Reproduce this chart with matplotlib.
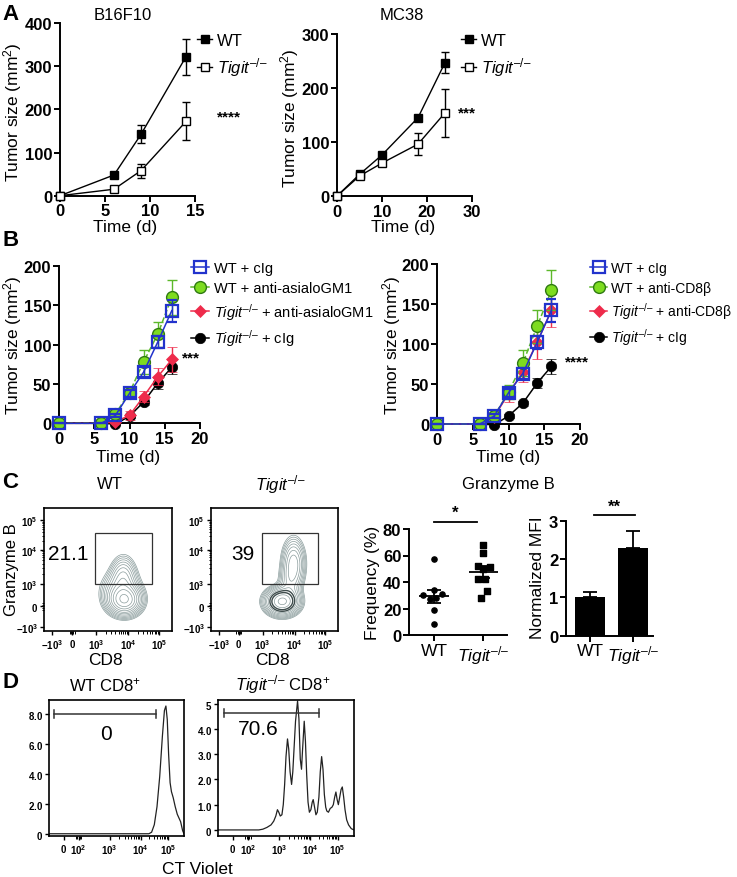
import numpy as np
import matplotlib
matplotlib.use("Agg")
import matplotlib.pyplot as plt
from matplotlib.lines import Line2D
from matplotlib.patches import Rectangle

plt.rcParams['font.family'] = ['Liberation Sans', 'DejaVu Sans']
plt.rcParams['mathtext.fontset'] = 'custom'
plt.rcParams['mathtext.rm'] = 'Liberation Sans'
plt.rcParams['mathtext.it'] = 'Liberation Sans:italic'
plt.rcParams['mathtext.bf'] = 'Liberation Sans:bold'

KO = r'$\mathit{Tigit}^{\mathit{–/–}}$'

# ---- panel A data ----
b16_days = [0, 6, 9, 14]
b16_wt = [0, 48, 142, 322]
b16_wt_err = [0, 0, 21, 42]
b16_ko = [0, 15, 58, 172]
b16_ko_err = [0, 0, 16, 44]

mc38_days = [0, 5, 10, 18, 24]
mc38_wt = [0, 40, 76, 145, 247]
mc38_wt_err = [0, 0, 0, 4, 20]
mc38_ko = [0, 37, 61, 96, 154]
mc38_ko_err = [0, 0, 0, 20, 45]

# ---- panel B data ----
b_days = [0, 6, 8, 10, 12, 14, 16]
b1_labels = ['WT + cIg', 'WT + anti-asialoGM1',
             KO + ' + anti-asialoGM1', KO + ' + cIg']
b1_vals = [[0, 0, 10, 38, 65, 103, 143],
           [0, 0, 12, 39, 78, 113, 160],
           [0, 0, 2, 10, 34, 59, 81],
           [0, 0, -1, 9, 27, 51, 71]]
b1_errs = [[0, 0, 2, 4, 6, 8, 14],
           [0, 0, 3, 6, 15, 16, 22],
           [0, 0, 1, 6, 7, 11, 16],
           [0, 0, 1, 2, 4, 7, 9]]
b2_labels = ['WT + cIg', 'WT + anti-CD8β',
             KO + ' + anti-CD8β', KO + ' + cIg']
b2_vals = [[0, 0, 10, 39, 63, 102, 142],
           [0, 0, 10, 40, 76, 122, 167],
           [0, 0, 9, 38, 65, 102, 142],
           [0, 0, -1, 10, 26, 51, 72]]
b2_errs = [[0, 0, 2, 5, 7, 8, 14],
           [0, 0, 2, 9, 16, 21, 25],
           [0, 0, 2, 10, 13, 21, 21],
           [0, 0, 1, 2, 3, 6, 9]]

# ---- panel C data ----
wt_freq = [57, 34, 31, 30, 28, 27, 19, 8]
wt_jit = [0, 0, 0.17, -0.22, 0.05, -0.08, 0, 0]
ko_freq = [68, 62, 52, 50, 51, 42, 42, 33, 28]
ko_jit = [0, 0, -0.12, 0, 0.13, -0.12, 0.03, 0.08, -0.05]
mfi_groups = ['WT', KO]
mfi_vals = [1.0, 2.3]
mfi_err = [0.14, 0.42]
gate_pct = ['21.1', '39']

# flow population components (display units 0..1): cx, cy, sx, sy, weight
wt_pop = [[0.63, 0.25, 0.07, 0.065, 1.0],
          [0.62, 0.45, 0.055, 0.09, 0.3],
          [0.60, 0.33, 0.085, 0.09, 0.3]]
ko_pop = [[0.56, 0.24, 0.07, 0.058, 1.0],
          [0.65, 0.55, 0.05, 0.11, 0.35],
          [0.62, 0.40, 0.05, 0.08, 0.15]]

flow_xticks = [0.06, 0.22, 0.406, 0.659, 0.901]
flow_xlabels = [r'$\mathbf{-10^3}$', r'$\mathbf{0}$', r'$\mathbf{10^3}$',
                r'$\mathbf{10^4}$', r'$\mathbf{10^5}$']
flow_yticks = [0.03, 0.20, 0.38, 0.66, 0.90]

# ---- panel D data (histogram traces) ----
wt_hist_x = [0.0, 0.74, 0.76, 0.78, 0.80, 0.82, 0.84, 0.855, 0.866, 0.876,
             0.886, 0.897, 0.907, 0.92, 0.935, 0.95, 0.96, 0.975, 0.99, 1.0]
wt_hist_y = [0, 0, 0.1, 0.6, 1.8, 3.8, 6.5, 8.2, 8.5, 7.6,
             5.3, 3.4, 2.8, 2.4, 1.8, 1.3, 1.1, 0.8, 0.2, 0]
ko_hist_x = [0.0, 0.30, 0.33, 0.36, 0.39, 0.41, 0.425, 0.437, 0.447, 0.458,
             0.47, 0.48, 0.49, 0.50, 0.511, 0.52, 0.53, 0.541, 0.55, 0.56,
             0.57, 0.585, 0.595, 0.605, 0.614, 0.622, 0.634, 0.643, 0.652, 0.662,
             0.672, 0.683, 0.693, 0.70, 0.71, 0.72, 0.73, 0.742, 0.752, 0.762,
             0.772, 0.782, 0.792, 0.80, 0.812, 0.825, 0.838, 0.848, 0.858, 0.867,
             0.876, 0.885, 0.895, 0.905, 0.914, 0.924, 0.934, 0.946, 0.96, 0.98, 1.0]
ko_hist_y = [0, 0, 0.03, 0.1, 0.2, 0.35, 0.55, 0.8, 0.7, 0.55,
             0.6, 1.0, 1.8, 2.9, 3.6, 3.2, 2.3, 1.8, 2.3, 3.3,
             4.3, 5.1, 4.4, 2.8, 2.4, 3.2, 4.3, 3.5, 2.2, 1.1,
             0.7, 0.8, 1.1, 1.2, 0.9, 0.6, 0.7, 1.3, 2.3, 2.9,
             2.4, 1.4, 0.9, 0.75, 0.7, 0.85, 0.9, 1.0, 1.3, 1.5,
             1.2, 1.0, 1.3, 1.6, 1.7, 1.3, 0.8, 0.4, 0.2, 0.05, 0]
hist_xticks = [0.11, 0.22, 0.45, 0.68, 0.88]
hist_xlabels = [r'$\mathbf{0}$', r'$\mathbf{10^2}$', r'$\mathbf{10^3}$',
                r'$\mathbf{10^4}$', r'$\mathbf{10^5}$']

W, H = 737, 878
fig = plt.figure(figsize=(W / 100, H / 100), dpi=100)


def add_ax(l, t, r, b):
    return fig.add_axes([l / W, 1 - b / H, (r - l) / W, (b - t) / H])


def ftext(x, y, s, **kw):
    kw.setdefault('ha', 'center')
    kw.setdefault('va', 'center')
    fig.text(x / W, 1 - y / H, s, **kw)


def prism(ax, size=12):
    for s in ['top', 'right']:
        ax.spines[s].set_visible(False)
    for s in ['left', 'bottom']:
        ax.spines[s].set_linewidth(1.4)
    ax.tick_params(direction='out', length=4, width=1.4, labelsize=size, pad=1.5)
    for lab in ax.get_xticklabels() + ax.get_yticklabels():
        lab.set_fontweight('bold')


def flow_box(ax, xt, xl, yt=None, yl=None, ylim=(0, 1)):
    for s in ax.spines.values():
        s.set_linewidth(1.2)
    ax.set_xlim(0, 1)
    ax.set_ylim(*ylim)
    ax.set_xticks(xt)
    ax.set_xticklabels(xl)
    # log-style minor ticks between decades
    minor = []
    for a, b in zip(xt[-3:-1], xt[-2:]):
        minor += [a + (b - a) * np.log10(k) for k in range(2, 10)]
    minor += [xt[1] + d for d in (-0.02, -0.01, 0.01, 0.02)]
    ax.set_xticks(minor, minor=True)
    ax.tick_params(axis='both', which='major', direction='out', length=3,
                   width=1, labelsize=7, pad=1.5)
    ax.tick_params(axis='both', which='minor', direction='out', length=1.8, width=0.7)
    if yt is not None:
        ax.set_yticks(yt)
        ax.set_yticklabels(yl)
    for lab in ax.get_xticklabels() + ax.get_yticklabels():
        lab.set_fontweight('bold')


# ================= A =================
axA1 = add_ax(60, 24, 195, 196.7)
axA1.errorbar(b16_days, b16_wt, yerr=b16_wt_err, fmt='-s', color='k', ms=5.5,
              lw=1, capsize=3, elinewidth=1, capthick=1, clip_on=False, zorder=3,
              label='WT')
axA1.errorbar(b16_days, b16_ko, yerr=b16_ko_err, fmt='-s', color='k', mfc='white',
              ms=5.5, lw=1, capsize=3, elinewidth=1, capthick=1, clip_on=False,
              zorder=3, label=KO)
axA1.set_xlim(0, 15)
axA1.set_ylim(0, 400)
axA1.set_xticks([0, 5, 10, 15])
axA1.set_yticks([0, 100, 200, 300, 400])
prism(axA1)

axA2 = add_ax(337, 35, 472, 197)
axA2.errorbar(mc38_days, mc38_wt, yerr=mc38_wt_err, fmt='-s', color='k', ms=5.5,
              lw=1, capsize=3, elinewidth=1, capthick=1, clip_on=False, zorder=3,
              label='WT')
axA2.errorbar(mc38_days, mc38_ko, yerr=mc38_ko_err, fmt='-s', color='k', mfc='white',
              ms=5.5, lw=1, capsize=3, elinewidth=1, capthick=1, clip_on=False,
              zorder=3, label=KO)
axA2.set_xlim(0, 30)
axA2.set_ylim(0, 300)
axA2.set_xticks([0, 10, 20, 30])
axA2.set_yticks([0, 100, 200, 300])
prism(axA2)

for ax, lx in [(axA1, 197), (axA2, 461)]:
    h, l = ax.get_legend_handles_labels()
    h = [Line2D([], [], color='k', marker='s', ms=5.5, lw=1,
                mfc=hh[0].get_markerfacecolor()) for hh in h]
    ax.legend(h, l, loc='upper left', bbox_to_anchor=(lx / W, 1 - 34 / H),
              bbox_transform=fig.transFigure, frameon=False, fontsize=12,
              handlelength=0.9, handletextpad=0.3, labelspacing=0.45,
              borderpad=0, borderaxespad=0)

ftext(123, 15, 'B16F10', fontsize=12)
ftext(402, 15, 'MC38', fontsize=12)
ftext(217, 117, '****', fontsize=11, fontweight='bold', ha='left')
ftext(458, 113, '***', fontsize=11, fontweight='bold', ha='left')
ftext(13, 112, 'Tumor size (mm$^2$)', fontsize=12.5, rotation=90)
ftext(290, 118, 'Tumor size (mm$^2$)', fontsize=12.5, rotation=90)
ftext(125, 228, 'Time (d)', fontsize=12.5)
ftext(403, 228, 'Time (d)', fontsize=12.5)

# ================= B =================
b_styles = [dict(marker='s', color='#2233cc', mfc='none', mec='#2233cc', mew=1.6,
                 ms=8.5, ls='-', zorder=5),
            dict(marker='o', color='#5cb82a', mfc='#7ddc1f', mec='#2f7a12', mew=1,
                 ms=8.5, ls='--', zorder=4),
            dict(marker='D', color='#ee2b4b', mfc='#ee2b4b', mec='#ee2b4b', mew=0.5,
                 ms=6, ls='-', zorder=3),
            dict(marker='o', color='k', mfc='k', mec='k', mew=0.5,
                 ms=7.5, ls='-', zorder=2)]


def draw_b(ax, vals, errs, labels):
    for v, e, lab, st in zip(vals, errs, labels, b_styles):
        st = dict(st)
        z = st.pop('zorder')
        ls = st.pop('ls')
        ax.errorbar(b_days, v, yerr=e, ecolor=st['color'], elinewidth=1,
                    capsize=3.5, capthick=1, lw=1.1, linestyle=ls, clip_on=False,
                    zorder=z, label=lab, **st)
    ax.set_xlim(0, 20)
    ax.set_ylim(0, 200)
    ax.set_xticks([0, 5, 10, 15, 20])
    ax.set_yticks([0, 50, 100, 150, 200])
    prism(ax)


axB1 = add_ax(59, 266.7, 200, 424.3)
draw_b(axB1, b1_vals, b1_errs, b1_labels)
axB2 = add_ax(437, 265, 580, 425)
draw_b(axB2, b2_vals, b2_errs, b2_labels)

for ax, lx, fs, pad in [(axB1, 191, 10.5, 0.35), (axB2, 590, 10, 0.25)]:
    h, l = ax.get_legend_handles_labels()
    hh = []
    for st in b_styles:
        st = dict(st)
        st.pop('zorder')
        st['ls'] = '-'
        hh.append(Line2D([], [], lw=1.1, **st))
    ax.legend(hh, l, loc='upper left', bbox_to_anchor=(lx / W, 1 - 262 / H),
              bbox_transform=fig.transFigure, frameon=False, fontsize=fs,
              handlelength=1.25, handletextpad=pad, labelspacing=0.4,
              borderpad=0, borderaxespad=0)

ftext(182, 358, '***', fontsize=11, fontweight='bold', ha='left')
ftext(565, 362, '****', fontsize=11, fontweight='bold', ha='left')
ftext(13, 345, 'Tumor size (mm$^2$)', fontsize=12.5, rotation=90)
ftext(392, 345, 'Tumor size (mm$^2$)', fontsize=12.5, rotation=90)
ftext(128, 458, 'Time (d)', fontsize=12.5)
ftext(508, 458, 'Time (d)', fontsize=12.5)

# ================= C flow =================
gx, gy = np.meshgrid(np.linspace(0, 1, 240), np.linspace(0, 1, 240))
flow_ylabels = [r'$\mathbf{-10^3}$', r'$\mathbf{0}$', r'$\mathbf{10^3}$',
                r'$\mathbf{10^4}$', r'$\mathbf{10^5}$']
for (l, r), pop, pct, px, dark in [((44, 172), wt_pop, gate_pct[0], 0.19, ()),
                                   ((211, 338), ko_pop, gate_pct[1], 0.25, (8, 9))]:
    ax = add_ax(l, 509, r, 632)
    dens = np.zeros_like(gx)
    for cx, cy, sx, sy, w in pop:
        dens += w * np.exp(-0.5 * (((gx - cx) / sx) ** 2 + ((gy - cy) / sy) ** 2))
    levels = dens.max() * np.geomspace(0.04, 0.9, 12)
    cols = ['#3f4d4d' if i in dark else '#8a9c9c' for i in range(len(levels))]
    lws = [1.0 if i in dark else 0.5 for i in range(len(levels))]
    ax.contour(gx, gy, dens, levels=levels, colors=cols, linewidths=lws)
    ax.add_patch(Rectangle((0.40, 0.38), 0.44, 0.42, fill=False, lw=0.9,
                           ec='#333333', zorder=5))
    ax.text(px, 0.63, pct, fontsize=15, ha='center', va='center')
    flow_box(ax, flow_xticks, flow_xlabels, flow_yticks, flow_ylabels)
    ymin = []
    for a, b in zip(flow_yticks[-3:-1], flow_yticks[-2:]):
        ymin += [a + (b - a) * np.log10(k) for k in range(2, 10)]
    ymin += [flow_yticks[1] + d for d in (-0.03, -0.015, 0.015, 0.03)]
    ax.set_yticks(ymin, minor=True)

ftext(110, 485, 'WT', fontsize=12)
ftext(280, 485, KO, fontsize=12)
ftext(12, 570, 'Granzyme B', fontsize=12, rotation=90)
ftext(105, 661, 'CD8', fontsize=12.5)
ftext(272, 661, 'CD8', fontsize=12.5)

# ================= C scatter =================
axC3 = add_ax(409, 530, 507, 636)
for i, (vals, jit, mk) in enumerate([(wt_freq, wt_jit, 'o'), (ko_freq, ko_jit, 's')]):
    xs = [i + j for j in jit]
    axC3.scatter(xs, vals, marker=mk, s=14, color='k', zorder=3, clip_on=False)
    m = np.mean(vals)
    sem = np.std(vals, ddof=1) / np.sqrt(len(vals))
    axC3.hlines(m, i - 0.3, i + 0.3, color='k', lw=1.3)
    axC3.errorbar([i], [m], yerr=[sem], fmt='none', ecolor='k', elinewidth=1.3,
                  capsize=5, capthick=1.3)
axC3.set_xlim(-0.505, 1.475)
axC3.set_ylim(0, 80)
axC3.set_yticks([0, 20, 40, 60, 80])
axC3.set_xticks([0, 1])
axC3.set_xticklabels(mfi_groups)
prism(axC3)
for lab in axC3.get_xticklabels():
    lab.set_fontweight('normal')
    lab.set_fontsize(12.5)
axC3.plot([0, 0.87], [85.5, 85.5], color='k', lw=1.3, clip_on=False)
axC3.text(0.43, 87, '*', fontsize=12, fontweight='bold', ha='center', va='bottom')

ftext(373, 583, 'Frequency (%)', fontsize=12.5, rotation=90)
ftext(508, 485, 'Granzyme B', fontsize=12)

# ================= C bar =================
axC4 = add_ax(566, 521.7, 653, 636.7)
axC4.bar([0, 1], mfi_vals, width=0.7, color='k', zorder=2)
axC4.errorbar([0, 1], mfi_vals, yerr=[[0, 0], mfi_err], fmt='none', ecolor='k',
              elinewidth=1.3, capsize=5, capthick=1.3, zorder=1)
axC4.set_xlim(-0.558, 1.465)
axC4.set_ylim(0, 3)
axC4.set_yticks([0, 1, 2, 3])
axC4.set_xticks([0, 1])
axC4.set_xticklabels(mfi_groups)
prism(axC4)
for lab in axC4.get_xticklabels():
    lab.set_fontweight('normal')
    lab.set_fontsize(12.5)
axC4.plot([0.1, 1.05], [3.15, 3.15], color='k', lw=1.3, clip_on=False)
axC4.text(0.57, 3.17, '**', fontsize=12, fontweight='bold', ha='center', va='bottom')
ftext(538, 578, 'Normalized MFI', fontsize=12.5, rotation=90)

# ================= D =================
hist_ylabels_wt = ['0', '2.0', '4.0', '6.0', '8.0']
hist_ylabels_ko = ['0', '1.0', '2.0', '3.0', '4.0', '5']
for (l, r), hx, hy, ylim, yt, yl, bar, lab, lx, ly in [
        ((49, 184), wt_hist_x, wt_hist_y, (-0.15, 8.9), [0, 2, 4, 6, 8],
         hist_ylabels_wt, (0.04, 0.79, 8.0), '0', 0.42, 6.7),
        ((218, 354), ko_hist_x, ko_hist_y, (-0.24, 5.14), [0, 1, 2, 3, 4, 5],
         hist_ylabels_ko, (0.044, 0.745, 4.62), '70.6', 0.295, 4.0)]:
    ax = add_ax(l, 701, r, 837)
    ax.plot(hx, hy, color='#222222', lw=0.9)
    ax.plot([bar[0], bar[1]], [bar[2], bar[2]], color='#333333', lw=1.1)
    for xb in bar[:2]:
        ax.plot([xb, xb], [bar[2] - 0.03 * ylim[1], bar[2] + 0.03 * ylim[1]],
                color='#333333', lw=1.1)
    ax.text(lx, ly, lab, fontsize=15, ha='center', va='center')
    flow_box(ax, hist_xticks, hist_xlabels, yt, [r'$\mathbf{%s}$' % s for s in yl],
             ylim=ylim)

ftext(105, 685, 'WT CD8$^{+}$', fontsize=12)
ftext(283, 685, KO + ' CD8$^{+}$', fontsize=12)
ftext(197, 870, 'CT Violet', fontsize=12.5)

# panel letters
for letter, y in [('A', 14), ('B', 241), ('C', 483), ('D', 683)]:
    ftext(2, y, letter, fontsize=16, fontweight='bold', ha='left')

fig.savefig('out.png', dpi=100)
